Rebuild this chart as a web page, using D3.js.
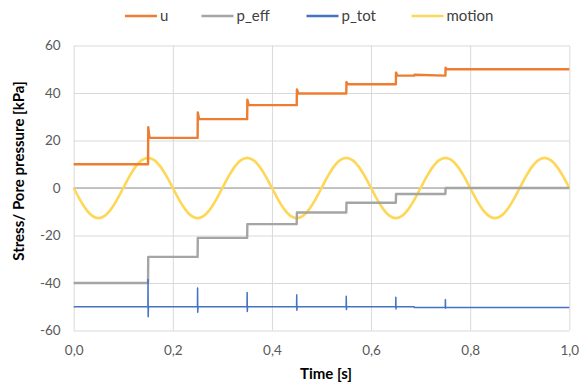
<!DOCTYPE html>
<html>
<head>
<meta charset="utf-8">
<script src="https://cdn.jsdelivr.net/npm/d3@7"></script>
<style>
  html, body { margin: 0; padding: 0; background: #fff; }
  svg { display: block; font-family: Lato, "Open Sans", "Liberation Sans", sans-serif; }
</style>
</head>
<body>
<svg id="chart" width="579" height="385"></svg>
<script>
// Loading steps: time of each load increment [s]
const stepTimes = [0.15, 0.25, 0.35, 0.45, 0.55, 0.65, 0.75];

// Pore pressure u [kPa]: level held before/after each step, and the short overshoot at each step
const uLevels = [10, 21.1, 29.0, 34.9, 39.8, 43.7, 47.3, 50.0];
const uPeaks  = [25.6, 31.8, 37.2, 41.5, 44.6, 48.6, 50.6];
// small drift of u inside the 0.65–0.75 s interval
const uDrift = { t: 0.687, value: 47.7 };

// Effective stress p_eff [kPa], level after each step
const pEffLevels = [-40, -29.0, -21.0, -15.2, -10.3, -6.2, -2.5, 0];

// Total stress p_tot [kPa]: baseline and the spike range at each step
const pTotBase  = -50;
const pTotHigh  = [-38.5, -42.1, -44.0, -45.0, -45.6, -46.0, -47.0];
const pTotLow   = [-54.2, -52.3, -52.0, -51.5, -51.2, -50.9, -50.6];
const pTotShift = { t: 0.687, value: -50.35 };

// Base motion trace, sampled every 0.0125 s
const motionTimeStep = 0.0125;
const motionValues = [
  0, -4.86, -8.98, -11.73, -12.7, -11.73, -8.98, -4.86,
  0, 4.86, 8.98, 11.73, 12.7, 11.73, 8.98, 4.86,
  0, -4.86, -8.98, -11.73, -12.7, -11.73, -8.98, -4.86,
  0, 4.86, 8.98, 11.73, 12.7, 11.73, 8.98, 4.86,
  0, -4.86, -8.98, -11.73, -12.7, -11.73, -8.98, -4.86,
  0, 4.86, 8.98, 11.73, 12.7, 11.73, 8.98, 4.86,
  0, -4.86, -8.98, -11.73, -12.7, -11.73, -8.98, -4.86,
  0, 4.86, 8.98, 11.73, 12.7, 11.73, 8.98, 4.86,
  0, -4.86, -8.98, -11.73, -12.7, -11.73, -8.98, -4.86,
  0, 4.86, 8.98, 11.73, 12.7, 11.73, 8.98, 4.86,
  0
];

// Axis ticks and labels
const xTicks = [0, 0.2, 0.4, 0.6, 0.8, 1.0];
const yTicks = [-60, -40, -20, 0, 20, 40, 60];
const xDomain = [0, 1];
const yDomain = [-60, 60];
const xTitle = "Time [s]";
const yTitle = "Stress/ Pore pressure [kPa]";
const seriesNames = ["u", "p_eff", "p_tot", "motion"];
const seriesColors = ["#ED7D31", "#A5A5A5", "#4472C4", "#FFD757"];
const tEnd = 1.0;

// ---- build point lists ----
const uPts = [[0, uLevels[0]]];
stepTimes.forEach((t, i) => {
  uPts.push([t, uLevels[i]]);
  uPts.push([t + 0.0004, uPeaks[i]]);
  uPts.push([t + 0.003, uLevels[i + 1]]);
  if (i === 5) {
    uPts.push([uDrift.t, uLevels[i + 1]]);
    uPts.push([uDrift.t + 0.0005, uDrift.value]);
  }
});
uPts.push([tEnd, uLevels[uLevels.length - 1]]);

const pEffPts = [[0, pEffLevels[0]]];
stepTimes.forEach((t, i) => {
  pEffPts.push([t, pEffLevels[i]]);
  pEffPts.push([t + 0.0004, pEffLevels[i + 1]]);
});
pEffPts.push([tEnd, pEffLevels[pEffLevels.length - 1]]);

const pTotPts = [[0, pTotBase]];
stepTimes.forEach((t, i) => {
  const base = t > pTotShift.t ? pTotShift.value : pTotBase;
  if (i === 6) {
    pTotPts.push([pTotShift.t, pTotBase]);
    pTotPts.push([pTotShift.t + 0.0005, pTotShift.value]);
  }
  pTotPts.push([t - 0.0003, base]);
  pTotPts.push([t, pTotHigh[i]]);
  pTotPts.push([t + 0.0003, pTotLow[i]]);
  pTotPts.push([t + 0.0008, base]);
  pTotPts.push([t + 0.003, base]);
});
pTotPts.push([tEnd, pTotShift.value]);

const motionPts = motionValues.map((v, i) => [i * motionTimeStep, v]);

// ---- chart ----
const svg = d3.select("#chart");
const plot = { left: 73.7, right: 569.3, top: 45.5, bottom: 330.5 };
const x = d3.scaleLinear().domain(xDomain).range([plot.left, plot.right]);
const y = d3.scaleLinear().domain(yDomain).range([plot.bottom, plot.top]);

const locale = d3.formatLocale({ decimal: ",", thousands: ".", grouping: [3], currency: ["", " €"], minus: "-" });
const fmtX = locale.format(".1f");
const fmtY = locale.format("d");

// gridlines + tick labels
const gx = svg.append("g")
  .attr("transform", `translate(0,${plot.bottom})`)
  .call(d3.axisBottom(x).tickValues(xTicks).tickFormat(fmtX)
    .tickSize(-(plot.bottom - plot.top)).tickPadding(15));
const gy = svg.append("g")
  .attr("transform", `translate(${plot.left},0)`)
  .call(d3.axisLeft(y).tickValues(yTicks).tickFormat(fmtY)
    .tickSize(-(plot.right - plot.left)).tickPadding(13));
[gx, gy].forEach(g => {
  g.select(".domain").remove();
  g.selectAll(".tick line").attr("stroke", "#D9D9D9").attr("stroke-width", 1);
  g.selectAll(".tick text").attr("fill", "#595959").style("font-size", "13.5px")
    .style("font-family", "Lato, 'Open Sans', sans-serif");
});

// horizontal axis line at zero
svg.append("line")
  .attr("x1", plot.left).attr("x2", plot.right)
  .attr("y1", y(0)).attr("y2", y(0))
  .attr("stroke", "#B4B4B4").attr("stroke-width", 1.3);

const line = d3.line().x(d => x(d[0])).y(d => y(d[1]));
const smooth = d3.line().x(d => x(d[0])).y(d => y(d[1])).curve(d3.curveCatmullRom.alpha(0.5));

const g = svg.append("g").attr("fill", "none").attr("stroke-linejoin", "round");
g.append("path").datum(motionPts).attr("d", smooth)
  .attr("stroke", seriesColors[3]).attr("stroke-width", 2.6);
g.append("path").datum(pEffPts).attr("d", line)
  .attr("stroke", seriesColors[1]).attr("stroke-width", 2.4);
g.append("path").datum(uPts).attr("d", line)
  .attr("stroke", seriesColors[0]).attr("stroke-width", 2.4);
g.append("path").datum(pTotPts).attr("d", line)
  .attr("stroke", seriesColors[2]).attr("stroke-width", 1.5);

// axis titles
svg.append("text")
  .attr("x", 326).attr("y", 379)
  .attr("text-anchor", "middle")
  .attr("font-weight", "bold").attr("font-size", 15).attr("fill", "#000")
  .text(xTitle);
svg.append("text")
  .attr("transform", `translate(24,171) rotate(-90)`)
  .attr("text-anchor", "middle")
  .attr("font-weight", "bold").attr("font-size", 15).attr("fill", "#000")
  .text(yTitle);

// legend
const legendX = [125, 201.5, 306.5, 411.5];
const legend = svg.append("g");
seriesNames.forEach((name, i) => {
  const lg = legend.append("g").attr("transform", `translate(${legendX[i]},16)`);
  lg.append("line").attr("x1", 0).attr("x2", 32).attr("y1", 0).attr("y2", 0)
    .attr("stroke", seriesColors[i]).attr("stroke-width", 2.5);
  lg.append("text").attr("x", 35).attr("y", 5)
    .attr("font-size", 15).attr("fill", "#404040").text(name);
});
</script>
</body>
</html>
